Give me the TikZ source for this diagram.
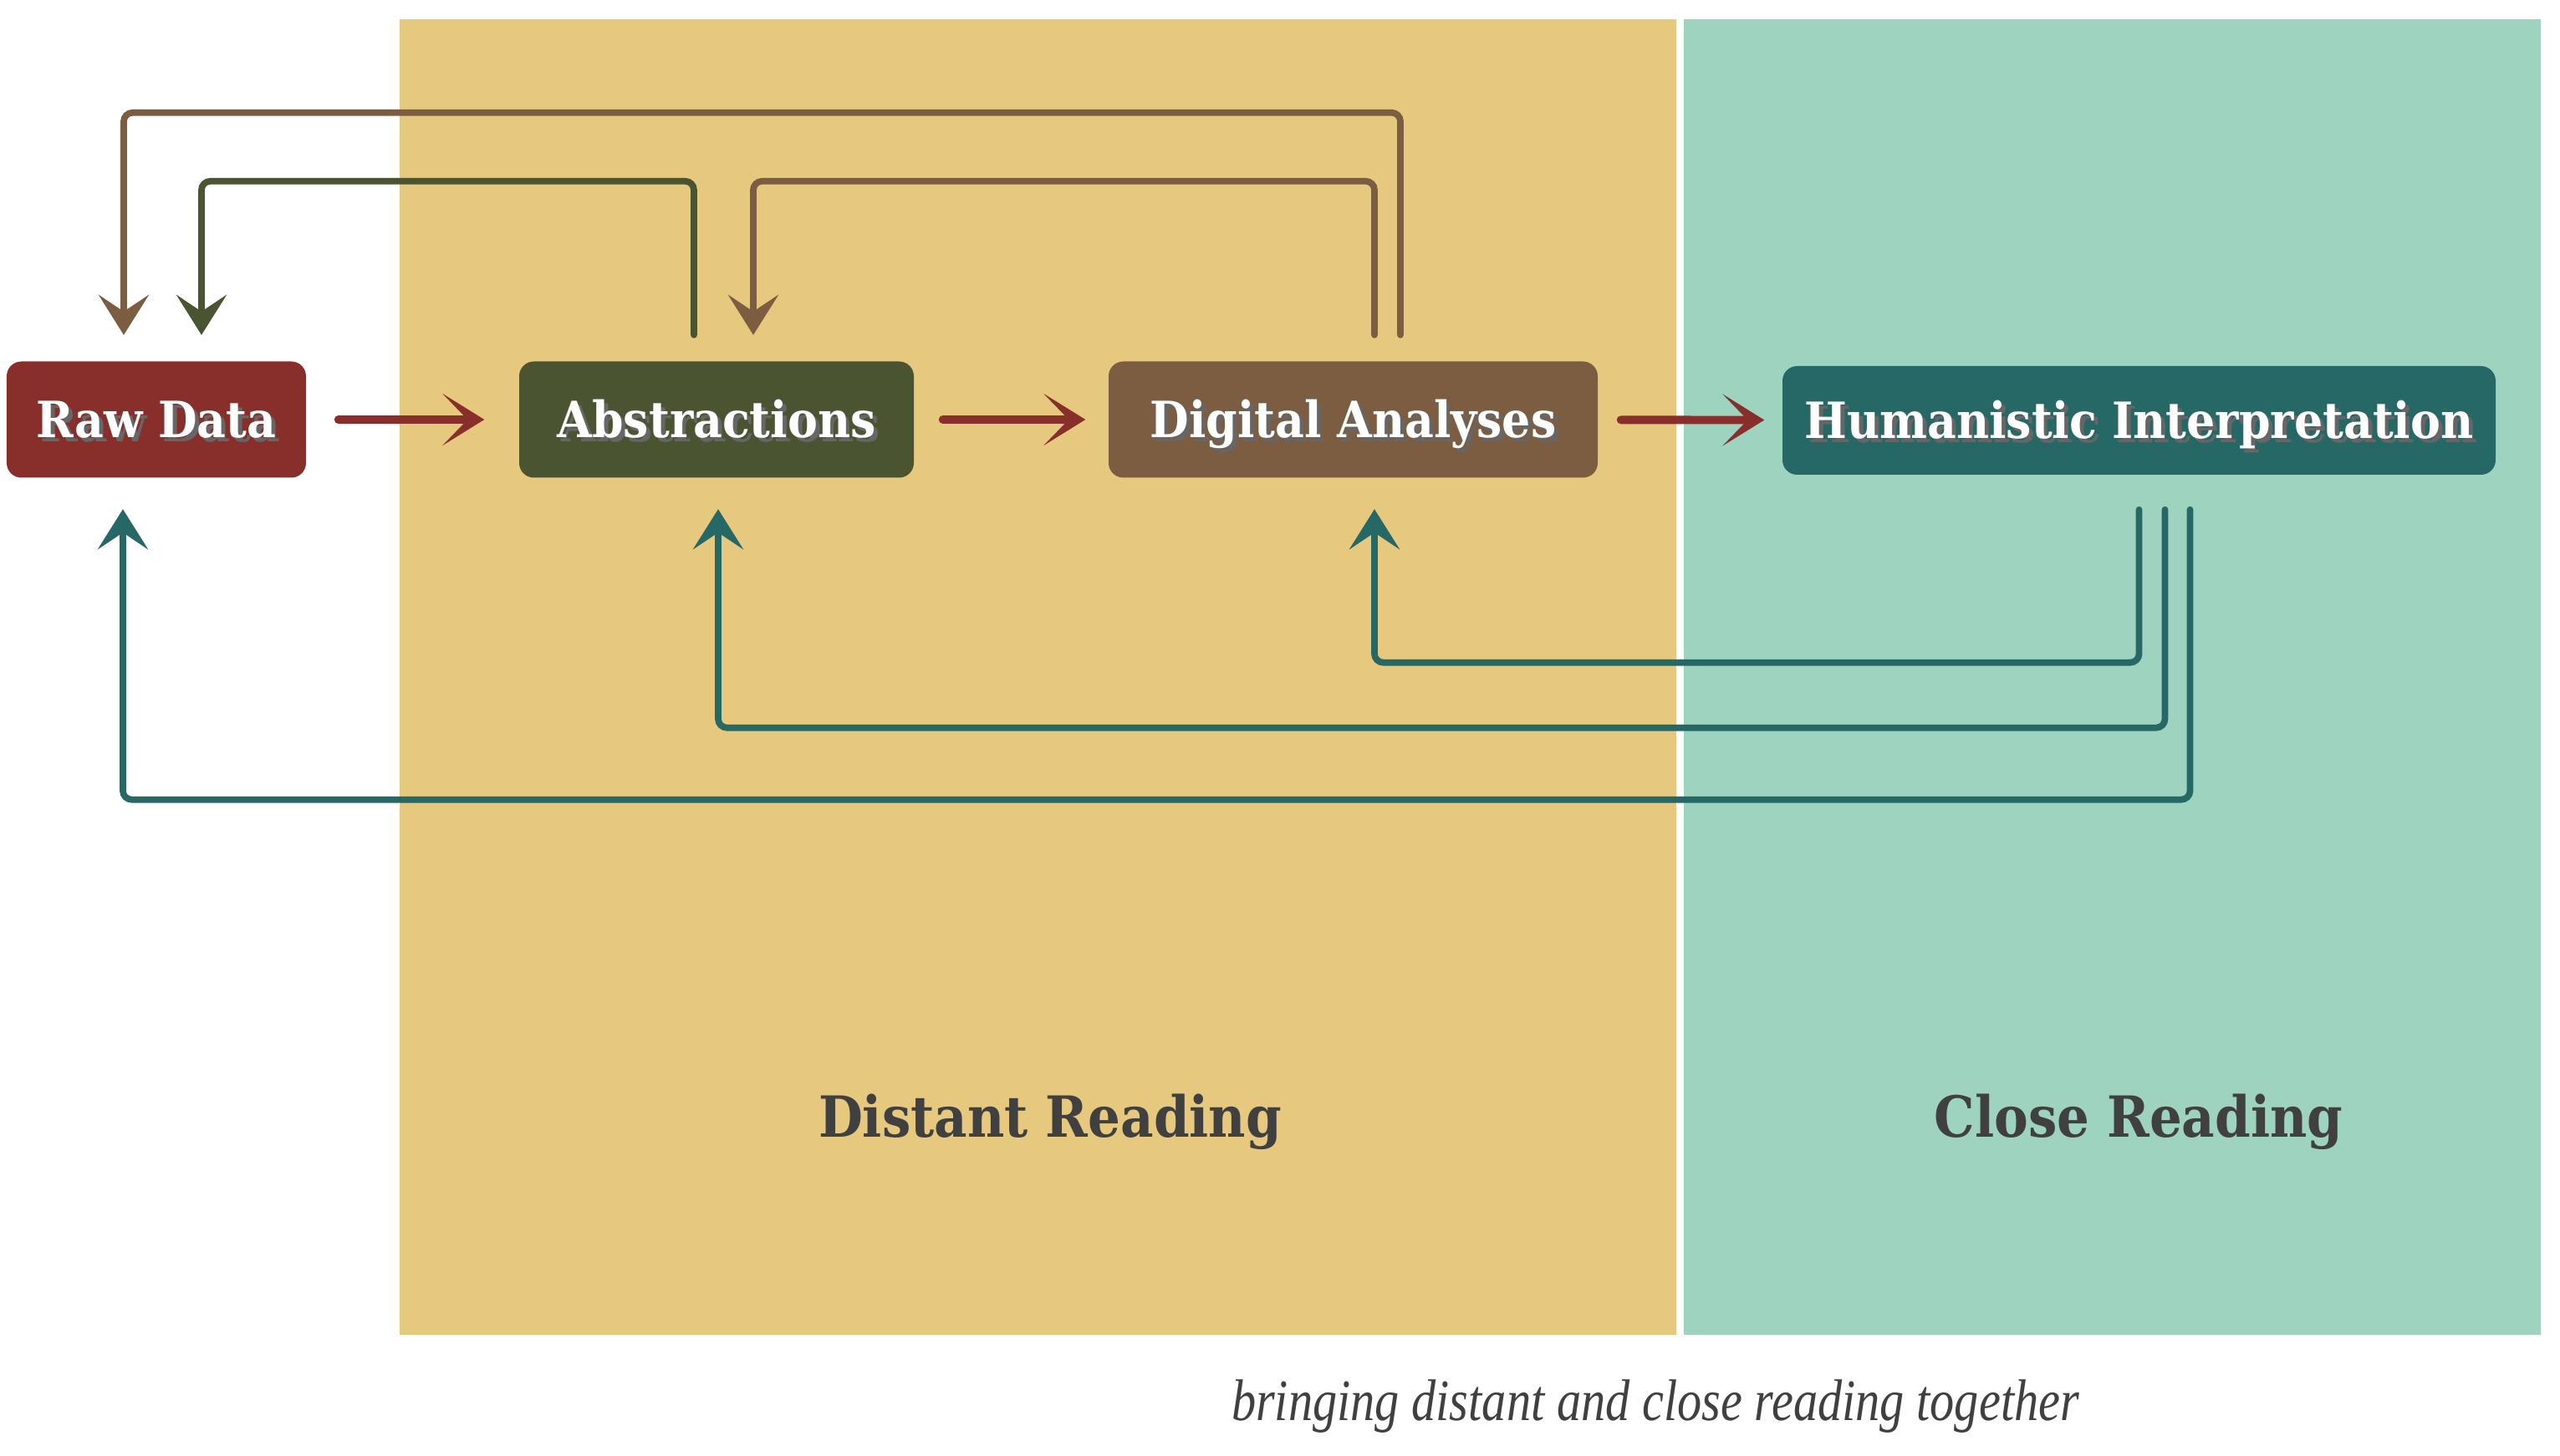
\documentclass[tikz,border=0pt]{standalone}
\usepackage{fontspec}
\setmainfont{DejaVu Serif Condensed}
\newfontfamily\capfont[FakeStretch=0.83]{Liberation Serif}
\usetikzlibrary{arrows.meta}

\definecolor{rawred}{RGB}{137,47,43}
\definecolor{absgreen}{RGB}{74,84,48}
\definecolor{digbrown}{RGB}{124,93,66}
\definecolor{humteal}{RGB}{38,104,101}
\definecolor{distantbg}{RGB}{230,201,126}
\definecolor{closebg}{RGB}{158,211,191}
\definecolor{labelgray}{RGB}{64,64,64}

% white text with a soft drop shadow
\newcommand{\shadowtext}[1]{\makebox[0pt][l]{\hspace{1.4pt}\raisebox{-1.4pt}{\textcolor{black!60}{#1}}}#1}

\begin{document}
\begin{tikzpicture}
    % Styles
    \tikzstyle{stage}=[rectangle, rounded corners=5pt, text=white, font=\fontsize{17}{20}\selectfont\bfseries, minimum height=1.39cm, inner sep=0pt, text height=12.4pt, text depth=0pt]
    \tikzstyle{forward}=[-{Stealth[length=0.5cm,width=0.62cm,inset=0.3cm]}, line width=2.8pt, rawred, line cap=round]
    \tikzstyle{feedback}=[-{Stealth[length=0.48cm,width=0.6cm,inset=0.2cm]}, line width=2.2pt, line cap=round, rounded corners=3pt]
    \tikzstyle{region}=[font=\fontsize{19.3}{23}\selectfont\bfseries, text=labelgray]

    \useasboundingbox (0,0) rectangle (30.62,-17.42);

    % Background regions
    \fill[distantbg] (4.78,-0.23) rectangle (20.05,-15.97);
    \fill[closebg] (20.14,-0.23) rectangle (30.39,-15.97);

    % Stages
    \node[stage, fill=rawred, minimum width=3.58cm] (raw) at (1.87,-5.02) {\shadowtext{Raw Data}};
    \node[stage, fill=absgreen, minimum width=4.72cm] (abs) at (8.57,-5.02) {\shadowtext{Abstractions}};
    \node[stage, fill=digbrown, minimum width=5.85cm] (dig) at (16.185,-5.02) {\shadowtext{Digital Analyses}};
    \node[stage, fill=humteal, minimum width=8.53cm, minimum height=1.3cm] (hum) at (25.585,-5.03) {\shadowtext{Humanistic Interpretation}};

    % Region labels
    \node[region] (distant) at (12.56,-13.42) {Distant Reading};
    \node[region] (close) at (25.58,-13.42) {Close Reading};
    \node[text=labelgray, font=\capfont\itshape\fontsize{20}{24}\selectfont] (caption) at (19.80,-16.83) {bringing distant and close reading together};

    % Forward arrows
    \draw[forward, shorten <=0.38cm, shorten >=0.41cm] (raw) -- (abs);
    \draw[forward, shorten <=0.34cm, shorten >=0.27cm] (abs) -- (dig);
    \draw[forward, shorten <=0.27cm, shorten >=0.21cm] (dig) -- (hum);

    % Feedback from above
    \draw[feedback, digbrown] ([xshift=5.65mm,yshift=3.1mm]dig.north) -- ++(0,2.66) -| ([xshift=-3.9mm,yshift=3.1mm]raw.north);
    \draw[feedback, digbrown] ([xshift=2.55mm,yshift=3.1mm]dig.north) -- ++(0,1.84) -| ([xshift=4.4mm,yshift=3.1mm]abs.north);
    \draw[feedback, absgreen] ([xshift=-2.7mm,yshift=3.1mm]abs.north) -- ++(0,1.84) -| ([xshift=5.4mm,yshift=3.1mm]raw.north);

    % Feedback from the interpretation
    \draw[feedback, humteal] ([yshift=-4.1mm]hum.south) -- ++(0,-1.83) -| ([xshift=2.55mm,yshift=-3.7mm]dig.south);
    \draw[feedback, humteal] ([xshift=3.1mm,yshift=-4.1mm]hum.south) -- ++(0,-2.61) -| ([xshift=0.2mm,yshift=-3.7mm]abs.south);
    \draw[feedback, humteal] ([xshift=6.1mm,yshift=-4.1mm]hum.south) -- ++(0,-3.47) -| ([xshift=-4mm,yshift=-3.7mm]raw.south);
\end{tikzpicture}
\end{document}
